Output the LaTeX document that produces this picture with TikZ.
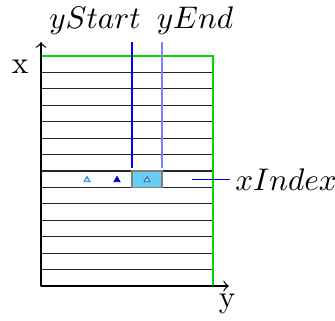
\documentclass[tikz,border=0pt]{standalone}
\usepackage{amsmath, amssymb}
\usepackage{tikz}
\usetikzlibrary{shapes.geometric}

\begin{document}
\begin{tikzpicture}[x=0.32pt, y=-0.32pt,
  tri/.style={regular polygon, regular polygon sides=3, inner sep=0pt, minimum size=2.2pt, line width=0.3pt}]
  \useasboundingbox (0,0) rectangle (335,320);
  % grid rows
  \fill[cyan!60] (132,171.0) rectangle (162,187.4);
  \foreach \k in {1,...,13}
    \draw[black!85, line width=0.35pt] (41,{56+\k*16.43}) -- (213,{56+\k*16.43});
  \draw[gray, line width=0.35pt] (132,171.0) rectangle (162,187.4);
  \draw[green!85!black, line width=0.35pt] (41,56) rectangle (213,286);
  % axes
  \coordinate (o) at (41,286);
  \coordinate (xtop) at (41,42);
  \coordinate (yend) at (229,286);
  \draw[->, line width=0.4pt] (o) -- (xtop);
  \draw[->, line width=0.4pt] (o) -- (yend);
  \node (xlab) at (20,67) {x};
  \node (ylab) at (227,304) {y};
  % range markers
  \coordinate (s1) at (132,42);
  \coordinate (s2) at (132,168);
  \coordinate (e1) at (162,42);
  \coordinate (e2) at (162,168);
  \draw[blue, line width=0.35pt] (s1) -- (s2);
  \draw[blue!50, line width=0.45pt] (e1) -- (e2);
  \node (ystart) at (95,21) {$yStart$};
  \node (yendlab) at (195,21) {$yEnd$};
  % row index
  \coordinate (xi) at (192,179.3);
  \node[inner sep=1.5pt, anchor=west] (xindex) at (230,179.3) {$xIndex$};
  \draw[blue, line width=0.35pt] (xi) -- (xindex.west);
  % points in the row
  \node[tri, draw=cyan!70!blue, fill=cyan!30] (p1) at (87,180) {};
  \node[tri, draw=blue!80!black, fill=blue!80!black] (p2) at (117,180) {};
  \node[tri, draw=cyan!50!blue!70!black, fill=cyan!40] (p3) at (147,180) {};
\end{tikzpicture}
\end{document}
